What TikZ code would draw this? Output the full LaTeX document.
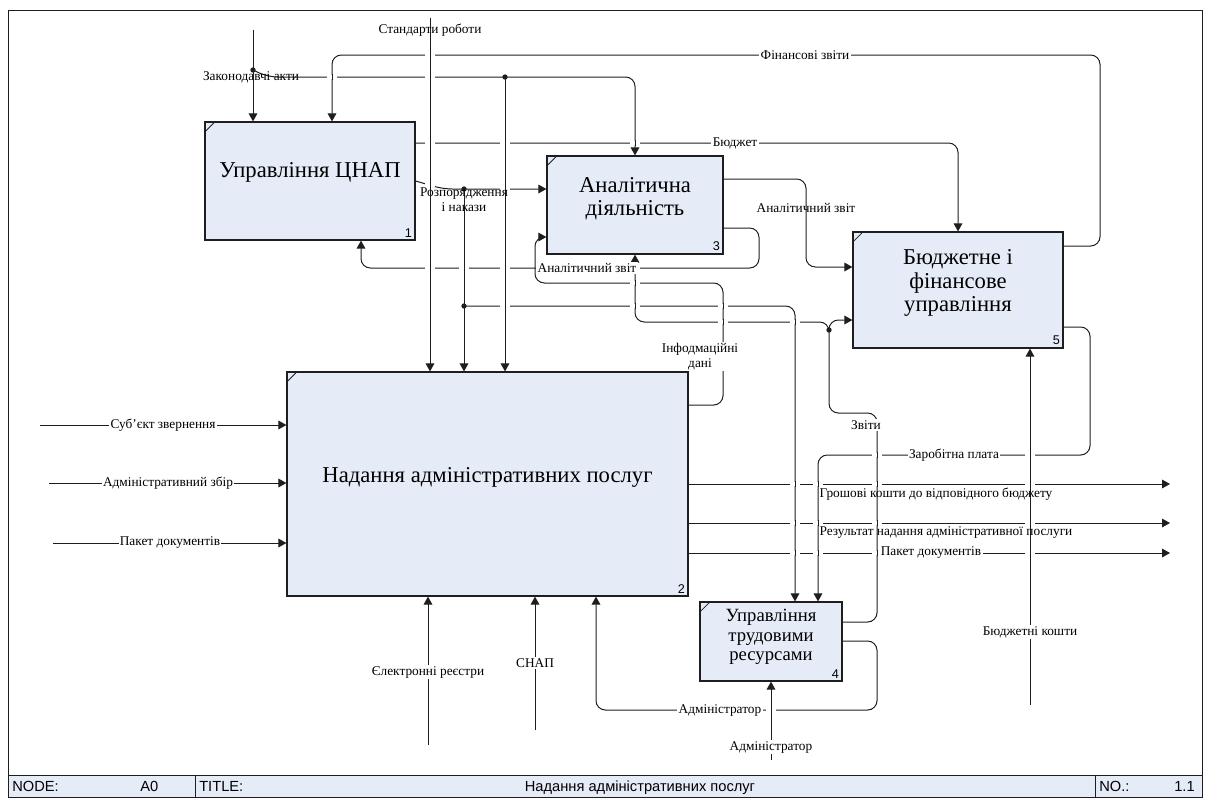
\documentclass[tikz,border=0pt]{standalone}
\usepackage{fontspec}
\setmainfont{Liberation Serif}
\newfontfamily\sansf{Liberation Sans}
\usetikzlibrary{arrows.meta,calc}
\definecolor{boxblue}{RGB}{230,236,247}
\definecolor{ink}{RGB}{30,30,30}

\begin{document}
\begin{tikzpicture}[x=0.75pt,y=-0.75pt,
  func/.style={draw=ink, fill=boxblue, line width=0.9pt, inner sep=0pt},
  functext/.style={font=\fontsize{17}{17.5}\selectfont, align=center, inner sep=0pt},
  smalltext/.style={font=\fontsize{14}{14.6}\selectfont, align=center, inner sep=0pt},
  boxnum/.style={font=\sansf\fontsize{9.5}{11}\selectfont, inner sep=2.5pt, anchor=south east},
  conn/.style={draw=ink, line width=0.75pt, rounded corners=7pt},
  arr/.style={conn, -{Triangle[length=6pt,width=6.5pt]}},
  lbl/.style={font=\fontsize{10}{11.5}\selectfont, inner sep=1pt, fill=white, align=center},
  lblclear/.style={font=\fontsize{10}{11.5}\selectfont, inner sep=1pt, align=center},
  dot/.style={fill=ink, circle, inner sep=0pt, minimum size=4pt},
  bartext/.style={font=\sansf\fontsize{11}{13}\selectfont, inner sep=0pt, anchor=base west}
]
\useasboundingbox (0,0) rectangle (1210,801);

% frame
\draw[ink, line width=0.75pt] (8,10) rectangle (1202,797);

% activity boxes
\node[func, minimum width=157.5pt, minimum height=88.5pt] (b1) at (310,181) {};
\node[func, minimum width=300.75pt, minimum height=168pt] (b2) at (487.5,484) {};
\node[func, minimum width=132pt, minimum height=73.5pt] (b3) at (635,205) {};
\node[func, minimum width=106.5pt, minimum height=59.25pt] (b4) at (771,641.5) {};
\node[func, minimum width=157.5pt, minimum height=87pt] (b5) at (958,290) {};

\foreach \b in {b1,b2,b3,b4,b5}{
  \draw[ink, line width=0.6pt] ($(\b.north west)+(0,11)$) -- ($(\b.north west)+(11,0)$);
}

\node[functext] (t1) at ($(b1.center)+(0,-9)$) {Управління ЦНАП};
\node[functext] (t2) at ($(b2.center)+(0,-7)$) {Надання адміністративних послуг};
\node[functext] (t3) at ($(b3.center)+(0,-6)$) {Аналітична\\діяльність};
\node[smalltext] (t4) at ($(b4.center)+(0,-4.5)$) {Управління\\трудовими\\ресурсами};
\node[functext] (t5) at ($(b5.center)+(0,-7)$) {Бюджетне і\\фінансове\\управління};

\node[boxnum] (n1) at (b1.south east) {1};
\node[boxnum] (n2) at (b2.south east) {2};
\node[boxnum] (n3) at (b3.south east) {3};
\node[boxnum] (n4) at (b4.south east) {4};
\node[boxnum] (n5) at (b5.south east) {5};

% free ends and branch points
\coordinate (zak0) at (253,30);
\coordinate (std0) at (430,18);
\coordinate (sub0) at (40,425);
\coordinate (zbir0) at (49,483);
\coordinate (pak0) at (53,543);
\coordinate (gr1) at (1170,484);
\coordinate (res1) at (1170,523);
\coordinate (pak1) at (1170,553);
\coordinate (er0) at (428,745);
\coordinate (snap0) at (535,730);
\coordinate (adm0) at (771,760);
\coordinate (bk0) at (1030,705);
\coordinate (dz) at (253,70);
\coordinate (dz2) at (505,77);
\coordinate (dr) at (464,189);
\coordinate (dr2) at (464,306);
\coordinate (dzv) at (829,330);

% controls from above
\draw[arr] (zak0) -- (b1.north -| zak0);
\draw[arr] (dz) -- (268,77) -- (b3.north |- 0,77) -- (b3.north);
\draw[arr] (dz2) -- (b2.north -| dz2);
\draw[arr] (std0) -- (b2.north -| std0);
\draw[arr] (b5.east |- 0,246) -- (1100,246) -- (1100,55) -- (332,55) -- (b1.north -| 332,0);
\draw[arr] (b1.east |- 0,143) -- (958,143) -- (b5.north);

% orders and instructions
\draw[arr] (b1.east |- 0,181) -- (443,189) -- (b3.west |- 0,189);
\draw[arr] (dr) -- (b2.north -| dr);
\draw[arr] (dr2) -- (795,306) -- (b4.north -| 795,0);

% analytical reports
\draw[arr] (b3.east |- 0,179) -- (806,179) -- (806,267) -- (b5.west |- 0,267);
\draw[arr] (b3.east |- 0,228) -- (759,228) -- (759,268) -- (361,268) -- (b1.south -| 361,0);

% information data
\draw[arr] (b2.east |- 0,405) -- (723,405) -- (723,283) -- (535,283) -- (535,237) -- (b3.west |- 0,237);

% reports
\draw[arr] (b4.east |- 0,622) -- (877,622) -- (877,413) -- (829,413) -- (829,320) -- (b5.west |- 0,320);
\draw[arr] (dzv) -- (829,322) -- (b3.south |- 0,322) -- (b3.south);

% salary
\draw[arr] (b5.east |- 0,327) -- (1090,327) -- (1090,455) -- (818,455) -- (b4.north -| 818,0);

% administrator
\draw[arr] (b4.east |- 0,641) -- (877,641) -- (877,710) -- (596,710) -- (b2.south -| 596,0);
\draw[arr] (adm0) -- (b4.south);

% mechanisms from below
\draw[arr] (bk0) -- (b5.south -| bk0);
\draw[arr] (er0) -- (b2.south -| er0);
\draw[arr] (snap0) -- (b2.south -| snap0);

% inputs
\draw[arr] (sub0) -- (b2.west |- sub0);
\draw[arr] (zbir0) -- (b2.west |- zbir0);
\draw[arr] (pak0) -- (b2.west |- pak0);

% outputs
\draw[arr] (b2.east |- gr1) -- (gr1);
\draw[arr] (b2.east |- res1) -- (res1);
\draw[arr] (b2.east |- pak1) -- (pak1);

% line hops: horizontal lines are broken where vertical lines cross them
\foreach \hx/\hy in {430/55, 430/77, 332/77, 430/143, 505/143, 635/143,
                     430/185, 505/189,
                     430/268, 464/268, 505/268, 635/268, 635/283,
                     505/306, 635/306, 723/306, 723/322, 795/322,
                     877/455, 1030/455,
                     795/484, 818/484, 877/484, 1030/484,
                     795/523, 818/523, 877/523, 1030/523,
                     795/553, 818/553, 877/553, 1030/553,
                     771/710}{
  \fill[white] (\hx-5,\hy-1.6) rectangle (\hx+5,\hy+1.6);
  \draw[ink, line width=0.75pt] (\hx,\hy-3) -- (\hx,\hy+3);
}

% branch dots
\foreach \d in {dz,dz2,dr,dr2,dzv} \node[dot] at (\d) {};

% arrow labels
\node[lblclear] (l1) at (251,77) {Законодавчі акти};
\node[lblclear] (l2) at (430,30) {Стандарти роботи};
\node[lbl] (l3) at (805,55) {Фінансові звіти};
\node[lbl] (l4) at (735,143) {Бюджет};
\node[lblclear] (l5) at (464,200) {Розпорядження\\і накази};
\node[lblclear] (l6) at (806,208) {Аналітичний звіт};
\node[lbl] (l7) at (587,268) {Аналітичний звіт};
\node[lbl, inner sep=0.5pt] (l8) at (700,356.5) {Інфодмаційні\\дані};
\node[lbl] (l9) at (866,425) {Звіти};
\node[lbl] (l10) at (954,455) {Заробітна плата};
\node[lblclear] (l11) at (936,494) {Грошові кошти до відповідного бюджету};
\node[lblclear] (l12) at (946,533) {Результат надання адміністративної послуги};
\node[lbl] (l13) at (931,553) {Пакет документів};
\node[lbl] (l14) at (720,710) {Адміністратор};
\node[lbl] (l15) at (771,747) {Адміністратор};
\node[lbl] (l16) at (1030,632) {Бюджетні кошти};
\node[lbl] (l17) at (428,672) {Єлектронні реєстри};
\node[lbl] (l18) at (535,663) {СНАП};
\node[lbl] (l19) at (163,425) {Суб’єкт звернення};
\node[lbl] (l20) at (168,483) {Адміністративний збір};
\node[lbl] (l21) at (170,543) {Пакет документів};

% title bar
\draw[ink, line width=0.75pt, fill=boxblue] (8,775) rectangle (1202,797);
\draw[ink, line width=0.75pt] (195,775) -- (195,797);
\draw[ink, line width=0.75pt] (1095,775) -- (1095,797);
\node[bartext] (node) at (12,791) {NODE:};
\node[bartext] (nodev) at (140,791) {A0};
\node[bartext] (title) at (199,791) {TITLE:};
\node[bartext, anchor=base] (titlev) at (640,791) {Надання адміністративних послуг};
\node[bartext] (no) at (1099,791) {NO.:};
\node[bartext] (nov) at (1174,791) {1.1};
\end{tikzpicture}
\end{document}
